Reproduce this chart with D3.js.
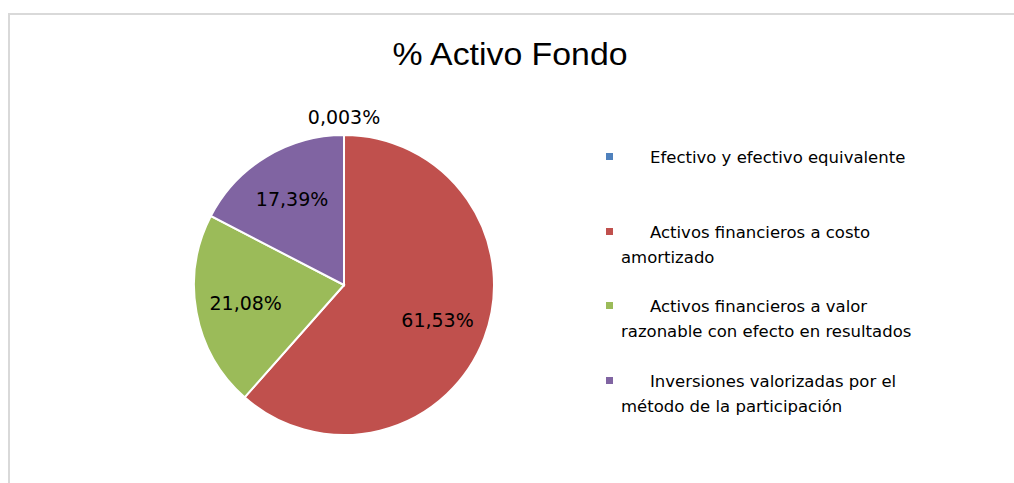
<!DOCTYPE html>
<html>
<head>
<meta charset="utf-8">
<script src="https://cdn.jsdelivr.net/npm/d3@7"></script>
<style>
  body { margin: 0; background: #fff; }
  svg { display: block; }
</style>
</head>
<body>
<div id="chart"></div>
<script>
// datos del grafico
var categories = [
    "Efectivo y efectivo equivalente",
    "Activos financieros a costo amortizado",
    "Activos financieros a valor razonable con efecto en resultados",
    "Inversiones valorizadas por el método de la participación"
];
var values = [0.003, 61.53, 21.08, 17.39];
var valueLabels = ["0,003%", "61,53%", "21,08%", "17,39%"];
// legend text split in lines like excel does
var legendLines = [
    ["Efectivo y efectivo equivalente"],
    ["Activos financieros a costo", "amortizado"],
    ["Activos financieros a valor", "razonable con efecto en resultados"],
    ["Inversiones valorizadas por el", "método de la participación"]
];
var colors = ["#4F81BD", "#C0504D", "#9BBB59", "#8064A2"];

var width = 1014, height = 483;

var svg = d3.select("#chart")
    .append("svg")
    .attr("width", width)
    .attr("height", height);

// chart frame
svg.append("path")
    .attr("d", "M9,483 L9,14 L1014,14")
    .attr("fill", "none")
    .attr("stroke", "#d9d9d9")
    .attr("stroke-width", 2);

svg.append("text")
    .attr("x", 510)
    .attr("y", 65)
    .attr("text-anchor", "middle")
    .attr("font-family", "Liberation Sans, Arial, sans-serif")
    .attr("font-size", 32)
    .attr("textLength", 235)
    .attr("lengthAdjust", "spacingAndGlyphs")
    .attr("fill", "#000")
    .text("% Activo Fondo");

var radius = 150;
var pieGroup = svg.append("g")
    .attr("transform", "translate(344,285)");

var pie = d3.pie().sort(null).value(d => d);
var arcs = pie(values);

var arc = d3.arc().innerRadius(0).outerRadius(radius);
var labelArc = d3.arc().innerRadius(100).outerRadius(100);
var outerArc = d3.arc().innerRadius(168).outerRadius(168);

pieGroup.selectAll("path.slice")
    .data(arcs)
    .enter()
    .append("path")
    .attr("class", "slice")
    .attr("d", arc)
    .attr("fill", (d, i) => colors[i])
    .attr("stroke", "#fff")
    .attr("stroke-width", 2);

pieGroup.selectAll("text.lbl")
    .data(arcs)
    .enter()
    .append("text")
    .attr("class", "lbl")
    .attr("transform", d => {
        var c = (d.endAngle - d.startAngle) < 0.05 ? outerArc.centroid(d) : labelArc.centroid(d);
        return "translate(" + c[0] + "," + c[1] + ")";
    })
    .attr("dy", "0.35em")
    .attr("text-anchor", "middle")
    .attr("font-family", "DejaVu Sans, Verdana, sans-serif")
    .attr("font-size", 19)
    .attr("fill", "#000")
    .text((d, i) => valueLabels[i]);

// legend
var legendTop = [157, 232, 306, 381];
var legend = svg.append("g");
legendLines.forEach(function(lines, i) {
    var g = legend.append("g");
    g.append("rect")
        .attr("x", 606)
        .attr("y", legendTop[i] - 4)
        .attr("width", 7)
        .attr("height", 7)
        .attr("fill", colors[i]);
    lines.forEach(function(line, j) {
        g.append("text")
            .attr("x", j == 0 ? 650 : 621)
            .attr("y", legendTop[i] + j * 25)
            .attr("dy", "0.35em")
            .attr("font-family", "DejaVu Sans, Verdana, sans-serif")
            .attr("font-size", 16.5)
            .attr("fill", "#000")
            .text(line);
    });
});
</script>
</body>
</html>
